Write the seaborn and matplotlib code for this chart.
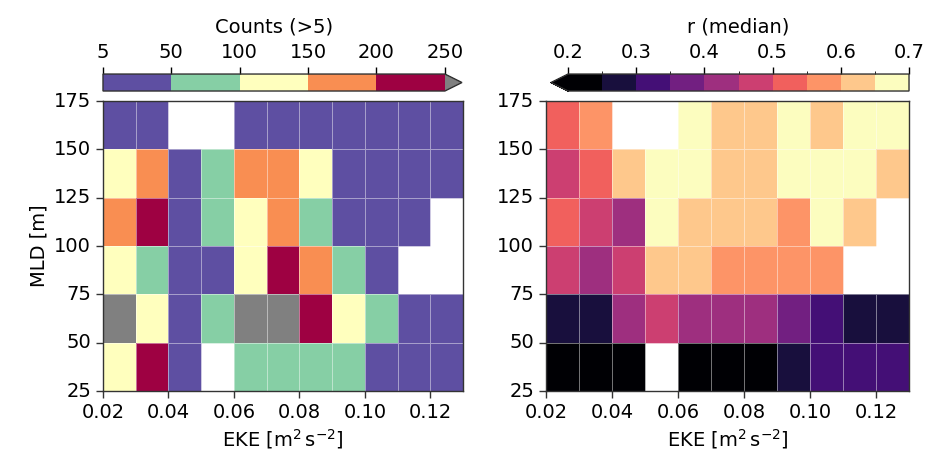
import numpy as np
import matplotlib.pyplot as plt
import seaborn as sns
from matplotlib.colors import BoundaryNorm

plt.rcParams['font.size'] = 14

nan = np.nan

# bin edges of the two axes
eke_edges = [0.02, 0.03, 0.04, 0.05, 0.06, 0.07, 0.08, 0.09, 0.10, 0.11, 0.12, 0.13]
mld_edges = [25, 50, 75, 100, 125, 150, 175]

# colour levels and colorbar ticks
count_levels = [5, 50, 100, 150, 200, 250]
count_ticks = [5, 50, 100, 150, 200, 250]
r_levels = [0.2, 0.25, 0.3, 0.35, 0.4, 0.45, 0.5, 0.55, 0.6, 0.65, 0.7]
r_ticks = [0.2, 0.3, 0.4, 0.5, 0.6, 0.7]

# rows go from the shallowest MLD bin (25-50) up to 150-175, columns follow eke_edges
counts = [
    [130, 230, 30, nan, 80, 90, 85, 70, 40, 20, 15],
    [290, 120, 35, 70, 310, 270, 220, 110, 60, 30, 20],
    [115, 65, 25, 40, 140, 210, 180, 60, 30, nan, nan],
    [170, 240, 30, 80, 120, 160, 75, 35, 25, 15, nan],
    [130, 185, 40, 65, 165, 175, 105, 40, 30, 20, 12],
    [20, 15, nan, nan, 35, 30, 25, 20, 15, 10, 8],
]

r_median = [
    [0.15, 0.12, 0.16, nan, 0.14, 0.12, 0.18, 0.27, 0.33, 0.32, 0.34],
    [0.27, 0.28, 0.43, 0.48, 0.42, 0.43, 0.44, 0.38, 0.33, 0.26, 0.27],
    [0.48, 0.42, 0.47, 0.63, 0.62, 0.58, 0.57, 0.58, 0.57, nan, nan],
    [0.53, 0.48, 0.42, 0.67, 0.63, 0.62, 0.61, 0.57, 0.66, 0.62, nan],
    [0.47, 0.52, 0.61, 0.66, 0.67, 0.63, 0.62, 0.68, 0.66, 0.67, 0.64],
    [0.52, 0.57, nan, nan, 0.66, 0.62, 0.63, 0.67, 0.61, 0.66, 0.67],
]


def draw_panel(ax, cax, data, cmap, norm, ticks, extend, label):
    grid = np.array(data, dtype=float)[::-1]  # heatmap puts row 0 at the top
    sns.heatmap(grid, ax=ax, cbar_ax=cax, cmap=cmap, norm=norm,
                linewidths=0.5, linecolor=(1, 1, 1, 0.45),
                cbar_kws=dict(orientation='horizontal', extend=extend, ticks=ticks))

    # heatmap strips the frame, put it back
    for s in ax.spines.values():
        s.set_visible(True)
        s.set_linewidth(1.0)
        s.set_color('#333333')

    xpos = np.arange(len(eke_edges))[::2]
    ax.set_xticks(xpos)
    ax.set_xticklabels([f'{eke_edges[i]:.2f}' for i in xpos], rotation=0)
    ax.set_yticks(np.arange(len(mld_edges)))
    ax.set_yticklabels([str(v) for v in mld_edges[::-1]], rotation=0)
    ax.tick_params(length=5, width=1, color='#333333')
    ax.set_xlabel(r'EKE [m$^2\,$s$^{-2}$]')

    cb = ax.collections[0].colorbar
    cb.outline.set_linewidth(1.0)
    cb.outline.set_edgecolor('#333333')
    cax.xaxis.set_ticks_position('top')
    cax.xaxis.set_label_position('top')
    cax.tick_params(length=5, width=1)
    cb.set_label(label, labelpad=8)


cmap_counts = plt.get_cmap('Spectral_r').copy()
cmap_counts.set_over('grey')
norm_counts = BoundaryNorm(count_levels, cmap_counts.N)

cmap_r = plt.get_cmap('magma').copy()
norm_r = BoundaryNorm(r_levels, cmap_r.N)

fig = plt.figure(figsize=(9.38, 4.59), dpi=100)
ax1 = fig.add_axes([0.1098, 0.1481, 0.3838, 0.6318])
ax2 = fig.add_axes([0.5821, 0.1481, 0.3870, 0.6318])
cax1 = fig.add_axes([0.1098, 0.8017, 0.3827, 0.037])
cax2 = fig.add_axes([0.5874, 0.8017, 0.3817, 0.037])

draw_panel(ax1, cax1, counts, cmap_counts, norm_counts, count_ticks, 'max', 'Counts (>5)')
draw_panel(ax2, cax2, r_median, cmap_r, norm_r, r_ticks, 'min', 'r (median)')
ax1.set_ylabel('MLD [m]')

fig.savefig('out.png', dpi=100)
